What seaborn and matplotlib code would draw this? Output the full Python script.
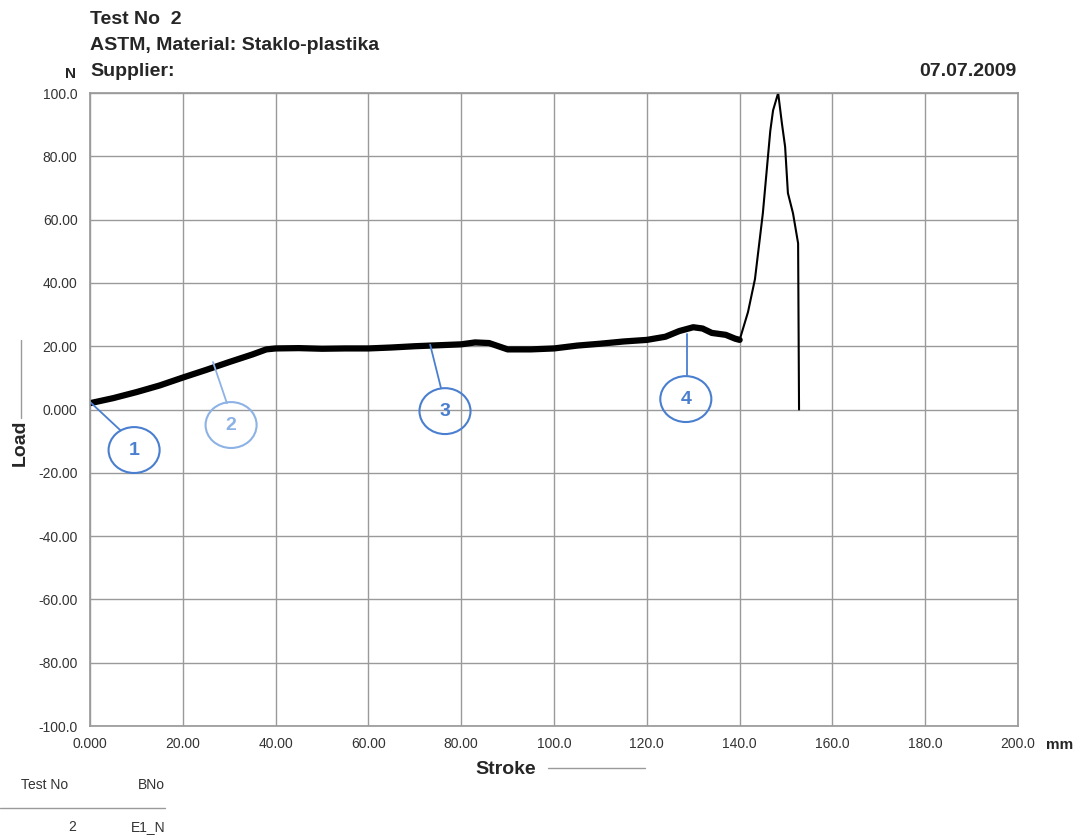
import pandas as pd
import seaborn as sns
import matplotlib.pyplot as plt
from matplotlib.patches import Ellipse

sns.set_theme(style="white")
plt.rcParams["font.family"] = ["Liberation Sans", "DejaVu Sans"]

# noisy plateau part of the test (stroke mm, load N)
band_x = [0, 5, 10, 15, 20, 25, 30, 35, 38, 40, 45, 50, 55, 60, 65, 70, 75, 80, 83,
          86, 88, 90, 95, 100, 105, 110, 115, 120, 124, 127, 130, 132, 134, 137, 139, 140]
band_y = [2, 3.6, 5.5, 7.6, 10.1, 12.5, 15, 17.4, 19, 19.3, 19.4, 19.2, 19.3, 19.3, 19.6, 20,
          20.3, 20.6, 21.2, 21, 20, 19, 19, 19.3, 20.2, 20.8, 21.5, 22, 23, 24.8, 26, 25.6,
          24.2, 23.6, 22.4, 22]

# final peak and break
peak_x = [140, 141.8, 143.3, 145, 146.6, 147.2, 148.3, 149.1, 149.8, 150.4, 151.5, 152.6, 152.8]
peak_y = [22, 30.8, 41.2, 62, 88, 94.5, 100, 90.5, 83, 68.4, 62, 52.5, 0]

x_ticks = [0, 20, 40, 60, 80, 100, 120, 140, 160, 180, 200]
x_labels = ["0.000", "20.00", "40.00", "60.00", "80.00", "100.0", "120.0", "140.0",
            "160.0", "180.0", "200.0"]
y_ticks = [100, 80, 60, 40, 20, 0, -20, -40, -60, -80, -100]
y_labels = ["100.0", "80.00", "60.00", "40.00", "20.00", "0.000", "-20.00", "-40.00",
            "-60.00", "-80.00", "-100.0"]

# numbered markers: label, circle centre, leader start, leader end
marks = [
    ("1", (9.5, -12.8), (0, 2.4), (6.5, -6.5), "#4a7fd0"),
    ("2", (30.4, -4.9), (26.5, 15), (29.5, 2), "#8db2e6"),
    ("3", (76.5, -0.5), (73.3, 20.5), (75.6, 7), "#4a7fd0"),
    ("4", (128.4, 3.3), (128.6, 24), (128.6, 11), "#4a7fd0"),
]

band = pd.DataFrame({"Stroke": band_x, "Load": band_y})
peak = pd.DataFrame({"Stroke": peak_x, "Load": peak_y})

fig = plt.figure(figsize=(10.82, 8.35), dpi=100)
ax = fig.add_axes([0.0832, 0.1305, 0.8577, 0.7581])

sns.lineplot(data=band, x="Stroke", y="Load", color="black", lw=4.5, ax=ax)
sns.lineplot(data=peak, x="Stroke", y="Load", color="black", lw=1.5, ax=ax)

ax.set_xlim(0, 200)
ax.set_ylim(-100, 100)
ax.set_xticks(x_ticks)
ax.set_xticklabels(x_labels)
ax.set_yticks(y_ticks)
ax.set_yticklabels(y_labels)
ax.tick_params(axis="both", length=0, labelsize=10, colors="#333333")
ax.tick_params(axis="x", pad=8)
ax.tick_params(axis="y", pad=9)
ax.grid(True, color="#9a9a9a", lw=1)
for s in ax.spines.values():
    s.set_color("#9a9a9a")
ax.set_xlabel("")
ax.set_ylabel("")

for lab, c, p0, p1, col in marks:
    ax.plot([p0[0], p1[0]], [p0[1], p1[1]], color=col, lw=1.3)
    ax.add_patch(Ellipse(c, 11, 14.5, fill=False, edgecolor=col, lw=1.5))
    ax.text(c[0], c[1], lab, color=col, fontsize=14, fontweight="bold",
            ha="center", va="center")

# header
fig.text(90 / 1082, 1 - 20 / 835, "Test No  2", fontsize=14, fontweight="bold", va="center")
fig.text(90 / 1082, 1 - 46 / 835, "ASTM, Material: Staklo-plastika", fontsize=14,
         fontweight="bold", va="center")
fig.text(90 / 1082, 1 - 72 / 835, "Supplier:", fontsize=14, fontweight="bold", va="center")
fig.text(1016 / 1082, 1 - 72 / 835, "07.07.2009", fontsize=14, fontweight="bold",
         va="center", ha="right")
fig.text(70 / 1082, 1 - 74 / 835, "N", fontsize=11, fontweight="bold", va="center", ha="center")

# axis titles
fig.text(20 / 1082, 1 - 443 / 835, "Load", fontsize=14, fontweight="bold", rotation=90,
         va="center", ha="center")
fig.add_artist(plt.Line2D([21 / 1082, 21 / 1082], [1 - 340 / 835, 1 - 418 / 835],
                          color="#9a9a9a", lw=1))
fig.text(506 / 1082, 1 - 769 / 835, "Stroke", fontsize=14, fontweight="bold",
         va="center", ha="center")
fig.add_artist(plt.Line2D([548 / 1082, 645 / 1082], [1 - 768 / 835, 1 - 768 / 835],
                          color="#9a9a9a", lw=1))
fig.text(1046 / 1082, 1 - 745 / 835, "mm", fontsize=11, fontweight="bold",
         va="center", ha="left")

# footer table
fig.text(45 / 1082, 1 - 785 / 835, "Test No", fontsize=10, color="#333333",
         va="center", ha="center")
fig.text(165 / 1082, 1 - 785 / 835, "BNo", fontsize=10, color="#333333",
         va="center", ha="right")
fig.add_artist(plt.Line2D([0, 165 / 1082], [1 - 808 / 835, 1 - 808 / 835],
                          color="#9a9a9a", lw=1))
fig.text(76 / 1082, 1 - 827 / 835, "2", fontsize=10, color="#333333",
         va="center", ha="right")
fig.text(165 / 1082, 1 - 827 / 835, "E1_N", fontsize=10, color="#333333",
         va="center", ha="right")

fig.savefig("out.png", dpi=100)
